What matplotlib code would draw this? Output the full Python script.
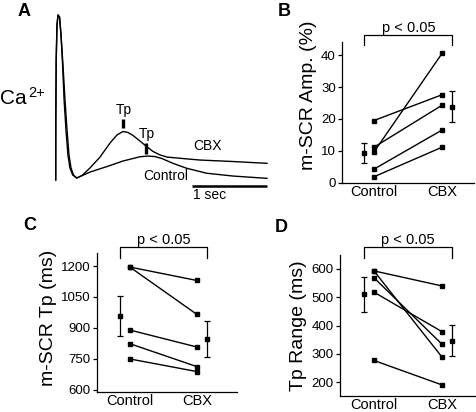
import matplotlib
matplotlib.use("Agg")
import matplotlib.pyplot as plt

plt.rcParams['font.family'] = ['Liberation Sans', 'DejaVu Sans']

# ---- panel A: Ca2+ transients (time in s, normalised Ca2+) ----
cbx_t = [0, 0.0013, 0.0067, 0.017, 0.031, 0.051, 0.071, 0.097, 0.124, 0.151,
         0.177, 0.204, 0.237, 0.28, 0.351, 0.457, 0.591, 0.724, 0.817, 0.897,
         0.964, 1.031, 1.124, 1.204, 1.297, 1.391, 1.484, 1.697, 1.924, 2.364,
         2.817]
cbx_ca = [0, 0.364, 0.727, 0.939, 1.0, 0.988, 0.879, 0.697, 0.485, 0.303,
          0.152, 0.073, 0.030, 0.012, 0.027, 0.073, 0.139, 0.224, 0.273, 0.294,
          0.288, 0.270, 0.236, 0.206, 0.173, 0.152, 0.139, 0.130, 0.121, 0.112,
          0.101]
ctl_t = [0, 0.0013, 0.0067, 0.017, 0.031, 0.051, 0.071, 0.092, 0.112, 0.137,
         0.163, 0.19, 0.227, 0.28, 0.457, 0.68, 0.897, 1.124, 1.231, 1.324,
         1.417, 1.563, 1.747, 2.013, 2.364, 2.817]
ctl_ca = [0, 0.364, 0.727, 0.939, 1.0, 0.988, 0.879, 0.697, 0.485, 0.303,
          0.152, 0.073, 0.030, 0.012, 0.048, 0.081, 0.115, 0.141, 0.145, 0.142,
          0.130, 0.101, 0.071, 0.041, 0.024, 0.010]
tp_cbx = 0.9
tp_ctl = 1.2

groups = ['Control', 'CBX']

# ---- panel B: m-SCR amplitude (%) ----
amp_ctl = [19.5, 11.1, 9.6, 4.2, 1.8]
amp_cbx = [27.6, 24.3, 40.6, 16.5, 11.1]
amp_mean = [9.2, 23.9]
amp_err = [3.2, 4.9]

# ---- panel C: m-SCR Tp (ms) ----
tp_ctl_ms = [1195, 1195, 890, 824, 750]
tp_cbx_ms = [1130, 966, 808, 713, 689]
tp_mean = [960, 848]
tp_err = [97, 87]

# ---- panel D: Tp range (ms) ----
rng_ctl = [593, 593, 569, 518, 277]
rng_cbx = [540, 290, 335, 379, 191]
rng_mean = [510, 347]
rng_err = [61, 56]

W, H = 476, 412
fig = plt.figure(figsize=(W / 100, H / 100), dpi=100)


def px_axes(left, top, right, bottom):
    return fig.add_axes([left / W, 1 - bottom / H, (right - left) / W, (bottom - top) / H])


# panel A
axA = px_axes(48.2, 6.75, 273.2, 196.5)
axA.set_xlim(-0.1, 2.9)
axA.set_ylim(-0.1, 1.05)
axA.axis('off')
axA.plot(ctl_t, ctl_ca, color='black', lw=1.0)
axA.plot(cbx_t, cbx_ca, color='black', lw=1.0)
axA.plot([tp_cbx, tp_cbx], [0.315, 0.37], color='black', lw=2.4, solid_capstyle='butt')
axA.plot([tp_ctl, tp_ctl], [0.158, 0.224], color='black', lw=2.4, solid_capstyle='butt')
axA.text(tp_cbx + 0.01, 0.38, 'Tp', ha='center', va='bottom', fontsize=10)
axA.text(tp_ctl + 0.02, 0.235, 'Tp', ha='center', va='bottom', fontsize=10)
axA.text(2.02, 0.206, 'CBX', ha='center', va='center', fontsize=10)
axA.text(1.47, 0.024, 'Control', ha='center', va='center', fontsize=10)
axA.plot([1.817, 2.817], [-0.036, -0.036], color='black', lw=1.8, solid_capstyle='butt')
axA.text(1.83, -0.05, '1 sec', ha='left', va='top', fontsize=10)
ca = fig.text(0.0, 1 - 98 / H, 'Ca', fontsize=15, ha='left', va='center')
axA.annotate('2+', xy=(1.0, 1.0), xycoords=ca, xytext=(1, 2),
             textcoords='offset points', ha='left', va='top', fontsize=10.5,
             annotation_clip=False)

fig.text(18 / W, 1 - 12 / H, 'A', fontsize=13, fontweight='bold', va='center')
fig.text(278 / W, 1 - 12 / H, 'B', fontsize=13, fontweight='bold', va='center')
fig.text(23 / W, 1 - 226 / H, 'C', fontsize=13, fontweight='bold', va='center')
fig.text(275 / W, 1 - 227 / H, 'D', fontsize=13, fontweight='bold', va='center')


def paired(ax, ctl, cbx, mean, err, ylim, yticks, ylabel, br_top, br_leg, label_y=0.5):
    xs = [1, 2]
    ex = [0.86, 2.15]
    for a, b in zip(ctl, cbx):
        ax.plot(xs, [a, b], color='black', lw=1.0, marker='s', ms=2.6)
    ax.errorbar(ex, mean, yerr=err, fmt='s', color='black', ms=3, capsize=2.5,
                elinewidth=0.9, capthick=0.9)
    ax.plot([ex[0], ex[0], ex[1], ex[1]], [br_leg, br_top, br_top, br_leg],
            color='black', lw=0.9, clip_on=False)
    ax.text(sum(ex) / 2, br_top, 'p < 0.05', ha='center', va='bottom', fontsize=10.5)
    ax.set_ylim(*ylim)
    ax.set_yticks(yticks)
    ax.set_xticks(xs)
    ax.set_xticklabels(groups, fontsize=10.5)
    ax.set_ylabel(ylabel, fontsize=14, labelpad=3, y=label_y)
    for s in ['top', 'right']:
        ax.spines[s].set_visible(False)
    for s in ['left', 'bottom']:
        ax.spines[s].set_linewidth(0.9)
    ax.tick_params(axis='x', length=0, pad=1.5)
    ax.tick_params(axis='y', length=3, width=0.9, pad=1.5, labelsize=9.5)


axB = px_axes(342, 42, 474, 182.5)
axB.set_xlim(0.53, 2.47)
paired(axB, amp_ctl, amp_cbx, amp_mean, amp_err, (0, 44.2), [0, 10, 20, 30, 40],
       'm-SCR Amp. (%)', 46.4, 43.2, label_y=0.62)

axC = px_axes(97, 253, 237, 392)
axC.set_xlim(0.51, 2.6)
paired(axC, tp_ctl_ms, tp_cbx_ms, tp_mean, tp_err, (590, 1263),
       [600, 750, 900, 1050, 1200], 'm-SCR Tp (ms)', 1292, 1239, label_y=0.53)

axD = px_axes(340, 255, 475, 396)
axD.set_xlim(0.5, 2.49)
paired(axD, rng_ctl, rng_cbx, rng_mean, rng_err, (151.6, 649),
       [200, 300, 400, 500, 600], 'Tp Range (ms)', 678, 639)

fig.savefig('out.png', dpi=100)
